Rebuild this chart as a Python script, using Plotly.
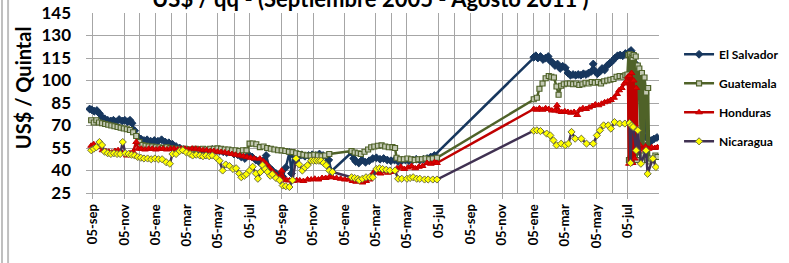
import plotly.graph_objects as go

# ---------------- data ----------------
tick_dates = ["2005-09-05", "2005-11-05", "2006-01-05", "2006-03-05", "2006-05-05", "2006-07-05",
              "2006-09-05", "2006-11-05", "2007-01-05", "2007-03-05", "2007-05-05", "2007-07-05",
              "2007-09-05", "2007-11-05", "2008-01-05", "2008-03-05", "2008-05-05", "2008-07-05"]
tick_labels = ["05-sep", "05-nov", "05-ene", "05-mar", "05-may", "05-jul",
               "05-sep", "05-nov", "05-ene", "05-mar", "05-may", "05-jul",
               "05-sep", "05-nov", "05-ene", "05-mar", "05-may", "05-jul"]
minor_grid_dates = ["2005-12-05", "2006-02-05", "2006-06-05", "2006-10-05", "2007-04-05",
                    "2007-08-05", "2007-12-05", "2008-02-05", "2008-06-05"]

es_dates = ["2005-08-30", "2005-09-03", "2005-09-08", "2005-09-13", "2005-09-18", "2005-09-23", "2005-09-28",
            "2005-10-04", "2005-10-10", "2005-10-15", "2005-10-20", "2005-10-26", "2005-11-01", "2005-11-06",
            "2005-11-11", "2005-11-16", "2005-11-20", "2005-11-25", "2005-12-01", "2005-12-07", "2005-12-13",
            "2005-12-19", "2005-12-26", "2006-01-02", "2006-01-09", "2006-01-16", "2006-01-23", "2006-01-30",
            "2006-02-06", "2006-02-13", "2006-02-20", "2006-02-27", "2006-03-06", "2006-03-13", "2006-03-20",
            "2006-03-27", "2006-04-03", "2006-04-10", "2006-04-17", "2006-04-24", "2006-05-01", "2006-05-08",
            "2006-05-15", "2006-05-22", "2006-05-29", "2006-06-05", "2006-06-12", "2006-06-19", "2006-06-26",
            "2006-07-03", "2006-07-10", "2006-07-17", "2006-07-24", "2006-07-31", "2006-08-06", "2006-08-12",
            "2006-08-18", "2006-08-25", "2006-09-01", "2006-09-07", "2006-09-13", "2006-09-20", "2006-09-24",
            "2006-09-28", "2006-10-03", "2006-10-08", "2006-10-14", "2006-10-20", "2006-10-27", "2006-11-03",
            "2006-11-10", "2006-11-17", "2006-11-24", "2006-12-01", "2006-12-05", "2006-12-10",
            "2007-01-18", "2007-01-22", "2007-01-26", "2007-02-01", "2007-02-07", "2007-02-14", "2007-02-21",
            "2007-02-28", "2007-03-07", "2007-03-14", "2007-03-21", "2007-03-28", "2007-04-04", "2007-04-11",
            "2007-04-18", "2007-04-25", "2007-05-02", "2007-05-09", "2007-05-16", "2007-05-23", "2007-05-30",
            "2007-06-06", "2007-06-13", "2007-06-20", "2007-06-27",
            "2008-01-05", "2008-01-09", "2008-01-13", "2008-01-18", "2008-01-23", "2008-01-28", "2008-02-02",
            "2008-02-06", "2008-02-10", "2008-02-15", "2008-02-20", "2008-02-25", "2008-03-01", "2008-03-06",
            "2008-03-11", "2008-03-16", "2008-03-21", "2008-03-26", "2008-03-31", "2008-04-05", "2008-04-10",
            "2008-04-15", "2008-04-20", "2008-04-25", "2008-04-29", "2008-05-03", "2008-05-07", "2008-05-12",
            "2008-05-16", "2008-05-21", "2008-05-26", "2008-05-31", "2008-06-05", "2008-06-10", "2008-06-15",
            "2008-06-20", "2008-06-25", "2008-06-30", "2008-07-04", "2008-07-08", "2008-07-11", "2008-07-14",
            "2008-07-17", "2008-07-20", "2008-07-23", "2008-07-27", "2008-07-31", "2008-08-06", "2008-08-10",
            "2008-08-14", "2008-08-19", "2008-08-24", "2008-08-30"]
es_values = [81.0, 80.5, 79.5, 80.0, 78.0, 75.5, 74.5,
             73.5, 73.0, 73.5, 72.5, 74.0, 73.0, 73.5,
             72.5, 73.5, 71.5, 66.5, 62.5, 61.0, 60.0,
             60.5, 59.5, 60.0, 59.5, 60.5, 59.0, 58.5,
             57.5, 56.0, 55.0, 54.0, 53.5, 53.0, 53.5,
             52.5, 53.5, 53.0, 52.5, 54.0, 53.5, 53.0,
             52.5, 52.0, 53.0, 51.0, 50.5, 49.0, 48.0,
             50.5, 49.0, 47.0, 45.5, 46.5, 50.0, 42.0,
             40.0, 38.0, 37.0, 36.0, 42.0, 52.0, 38.0,
             50.0, 47.0, 49.5, 50.5, 49.5, 50.0, 50.5,
             50.0, 51.0, 50.0, 49.5, 47.0, 39.5,
             52.0, 48.0, 46.0, 45.0, 47.0, 45.5, 46.5,
             48.0, 48.5, 47.5, 48.0, 47.0, 46.5, 47.0,
             46.0, 46.5, 47.0, 46.5, 47.0, 47.5, 47.0,
             47.5, 48.0, 49.0, 50.0,
             115.5, 116.5, 115.0, 116.0, 114.0, 115.0, 116.0,
             113.0, 112.0, 110.0, 111.0, 108.0, 109.5, 108.5,
             105.0, 103.5, 104.0, 103.5, 104.0, 103.5, 104.5,
             104.0, 105.0, 106.0, 111.0, 106.0, 104.5, 106.0,
             108.0, 107.0, 110.0, 111.5, 113.0, 115.0, 116.5,
             117.0, 116.5, 118.0, 117.5, 119.0, 120.0, 118.0,
             117.0, 111.0, 108.0, 100.0, 91.5, 91.5, 62.0,
             58.0, 60.0, 61.0, 62.0]

gt_dates = ["2005-09-02", "2005-09-07", "2005-09-12", "2005-09-17", "2005-09-23", "2005-09-29", "2005-10-05",
            "2005-10-11", "2005-10-17", "2005-10-23", "2005-10-29", "2005-11-04", "2005-11-10", "2005-11-16",
            "2005-11-22", "2005-11-28", "2005-12-04", "2005-12-10", "2005-12-16", "2005-12-22", "2005-12-29",
            "2006-01-05", "2006-01-12", "2006-01-19", "2006-01-26", "2006-02-02", "2006-02-09", "2006-02-16",
            "2006-02-23", "2006-03-02", "2006-03-09", "2006-03-16", "2006-03-23", "2006-03-30", "2006-04-06",
            "2006-04-13", "2006-04-20", "2006-04-27", "2006-05-04", "2006-05-11", "2006-05-18", "2006-05-25",
            "2006-06-01", "2006-06-08", "2006-06-15", "2006-06-22", "2006-06-29", "2006-07-05", "2006-07-11",
            "2006-07-18", "2006-07-25", "2006-08-01", "2006-08-08", "2006-08-15", "2006-08-22", "2006-08-29",
            "2006-09-05", "2006-09-12", "2006-09-19", "2006-09-26", "2006-10-03", "2006-10-10", "2006-10-17",
            "2006-10-24", "2006-10-31", "2006-11-07", "2006-11-14", "2006-11-21", "2006-11-28", "2006-12-06",
            "2007-01-18", "2007-01-24", "2007-01-30", "2007-02-05", "2007-02-12", "2007-02-19", "2007-02-25",
            "2007-03-03", "2007-03-10", "2007-03-17", "2007-03-24", "2007-03-31", "2007-04-07", "2007-04-12",
            "2007-04-15", "2007-04-22", "2007-04-29", "2007-05-06", "2007-05-13", "2007-05-20", "2007-05-27",
            "2007-06-03", "2007-06-10", "2007-06-17", "2007-06-24", "2007-07-02",
            "2008-01-05", "2008-01-11", "2008-01-16", "2008-01-22", "2008-01-28", "2008-02-03", "2008-02-08",
            "2008-02-13", "2008-02-18", "2008-02-22", "2008-02-27", "2008-03-03", "2008-03-09", "2008-03-15",
            "2008-03-21", "2008-03-27", "2008-04-02", "2008-04-08", "2008-04-14", "2008-04-20", "2008-04-26",
            "2008-05-02", "2008-05-08", "2008-05-14", "2008-05-20", "2008-05-26", "2008-06-01", "2008-06-07",
            "2008-06-13", "2008-06-19", "2008-06-25", "2008-06-30", "2008-07-04", "2008-07-06", "2008-07-07",
            "2008-07-09", "2008-07-10", "2008-07-12", "2008-07-14", "2008-07-16", "2008-07-18", "2008-07-20",
            "2008-07-22", "2008-07-24", "2008-07-27", "2008-07-30", "2008-08-01", "2008-08-04", "2008-08-06",
            "2008-08-09", "2008-08-11", "2008-08-13", "2008-08-15", "2008-08-18", "2008-08-22", "2008-08-27",
            "2008-08-31"]
gt_values = [73.5, 72.0, 73.5, 72.0, 71.5, 71.0, 70.5,
             70.0, 69.5, 69.0, 68.5, 68.0, 67.5, 67.0,
             65.5, 63.0, 59.0, 57.0, 56.5, 56.0, 56.0,
             55.5, 55.5, 55.0, 55.5, 55.0, 54.5, 54.5,
             54.0, 54.5, 54.0, 54.0, 54.5, 54.0, 54.5,
             54.0, 54.5, 54.5, 54.8, 54.5, 54.0, 54.0,
             53.5, 53.5, 53.0, 53.5, 53.4, 57.9, 58.0,
             57.5, 55.6, 56.0, 55.0, 54.5, 54.0, 53.5,
             53.4, 53.0, 52.5, 52.3, 51.5, 51.0, 50.5,
             50.0, 50.0, 50.5, 50.0, 49.5, 50.0, 51.0,
             53.0, 52.0, 51.5, 51.0, 52.5, 54.0, 55.5,
             56.0, 56.5, 56.8, 56.0, 55.5, 55.6, 55.0,
             48.5, 47.5, 47.5, 48.0, 47.5, 47.0, 47.5,
             47.5, 48.0, 47.5, 48.0, 48.5,
             87.5, 88.5, 94.5, 98.0, 101.5, 103.0, 102.5,
             102.0, 96.0, 90.5, 96.5, 97.5, 98.0, 98.0,
             97.5, 98.0, 97.0, 97.5, 98.5, 98.0, 99.0,
             98.5, 99.0, 98.0, 99.5, 100.0, 100.5, 101.0,
             102.5, 103.0, 102.5, 103.5, 104.0, 117.0, 47.0,
             117.5, 48.0, 116.0, 115.0, 117.0, 48.0, 116.0,
             47.0, 110.0, 108.0, 52.0, 105.0, 50.0, 102.0,
             92.0, 47.0, 95.0, 46.0, 48.0, 47.0, 50.0,
             49.0]

hn_dates = ["2005-09-02", "2005-09-07", "2005-09-12", "2005-09-18", "2005-09-24", "2005-09-30", "2005-10-06",
            "2005-10-12", "2005-10-18", "2005-10-24", "2005-10-30", "2005-11-05", "2005-11-10", "2005-11-16",
            "2005-11-22", "2005-11-28", "2005-12-02", "2005-12-08", "2005-12-15", "2005-12-22", "2005-12-29",
            "2006-01-05", "2006-01-12", "2006-01-19", "2006-01-26", "2006-02-02", "2006-02-09", "2006-02-16",
            "2006-02-23", "2006-03-02", "2006-03-09", "2006-03-16", "2006-03-23", "2006-03-30", "2006-04-06",
            "2006-04-13", "2006-04-20", "2006-04-27", "2006-05-04", "2006-05-11", "2006-05-18", "2006-05-25",
            "2006-06-01", "2006-06-08", "2006-06-16", "2006-06-23", "2006-06-30", "2006-07-07", "2006-07-14",
            "2006-07-25", "2006-08-01", "2006-08-06", "2006-08-12", "2006-08-18", "2006-08-25", "2006-09-01",
            "2006-09-05", "2006-09-10", "2006-09-15", "2006-09-20", "2006-09-27", "2006-10-04", "2006-10-10",
            "2006-10-17", "2006-10-25", "2006-11-01", "2006-11-08", "2006-11-15", "2006-11-22", "2006-11-29",
            "2006-12-06", "2006-12-12", "2006-12-20", "2006-12-28", "2007-01-05", "2007-01-13", "2007-01-20",
            "2007-01-27", "2007-02-02", "2007-02-08", "2007-02-15", "2007-02-22", "2007-03-01", "2007-03-08",
            "2007-03-15", "2007-03-22", "2007-03-29", "2007-04-05", "2007-04-12", "2007-04-16", "2007-04-23",
            "2007-04-30", "2007-05-07", "2007-05-14", "2007-05-21", "2007-05-28", "2007-06-04", "2007-06-13",
            "2007-06-20", "2007-06-27", "2007-07-02",
            "2008-01-05", "2008-01-10", "2008-01-16", "2008-01-22", "2008-01-28", "2008-02-03", "2008-02-09",
            "2008-02-15", "2008-02-19", "2008-02-23", "2008-02-28", "2008-03-05", "2008-03-11", "2008-03-17",
            "2008-03-23", "2008-03-29", "2008-04-03", "2008-04-09", "2008-04-15", "2008-04-21", "2008-04-27",
            "2008-05-03", "2008-05-09", "2008-05-15", "2008-05-21", "2008-05-27", "2008-06-02", "2008-06-08",
            "2008-06-14", "2008-06-18", "2008-06-23", "2008-06-28", "2008-07-02", "2008-07-05", "2008-07-07",
            "2008-07-08", "2008-07-10", "2008-07-12", "2008-07-14", "2008-07-16", "2008-07-18", "2008-07-21",
            "2008-07-24", "2008-07-28", "2008-08-02", "2008-08-08", "2008-08-14", "2008-08-20", "2008-08-26",
            "2008-08-31"]
hn_values = [56.5, 57.5, 55.5, 57.0, 53.5, 53.0, 52.5,
             52.0, 53.0, 53.5, 52.5, 51.5, 50.0, 51.5,
             52.5, 59.0, 54.5, 54.5, 54.0, 54.5, 54.5,
             54.0, 54.5, 54.5, 54.0, 54.5, 54.5, 54.0,
             54.5, 54.5, 54.0, 54.6, 54.5, 54.0, 53.5,
             53.5, 53.0, 53.0, 52.5, 52.3, 52.0, 51.5,
             51.0, 50.5, 50.0, 49.5, 49.0, 48.5, 48.0,
             47.9, 46.0, 44.5, 42.0, 39.5, 37.0, 35.6,
             40.0, 34.0, 33.5, 33.4, 33.0, 33.5, 33.4,
             33.0, 34.0, 34.0, 34.5, 34.0, 35.0, 35.0,
             35.6, 35.5, 35.0, 34.5, 34.0, 34.0, 33.0,
             32.5, 33.5, 32.0, 33.0, 34.0, 38.5, 39.0,
             38.0, 39.5, 38.5, 39.0, 40.0, 41.5, 42.5,
             41.0, 42.0, 43.0, 41.5, 42.5, 43.0, 45.0,
             44.5, 45.5, 45.0,
             81.0, 80.5, 81.5, 80.5, 81.5, 81.0, 80.0,
             80.0, 83.5, 79.5, 79.0, 79.5, 79.0, 78.5,
             79.0, 77.0, 80.5, 81.5, 81.0, 82.0, 83.0,
             84.0, 83.5, 84.5, 85.5, 86.0, 87.0, 88.5,
             91.0, 93.5, 95.0, 98.0, 99.5, 102.5, 44.5,
             103.0, 46.0, 105.0, 45.0, 100.0, 48.0, 95.0,
             53.0, 57.0, 54.0, 56.0, 54.5, 55.5, 55.0,
             55.5]

ni_dates = ["2005-09-02", "2005-09-07", "2005-09-12", "2005-09-18", "2005-09-23", "2005-09-28", "2005-10-04",
            "2005-10-10", "2005-10-16", "2005-10-22", "2005-10-28", "2005-11-02", "2005-11-07", "2005-11-13",
            "2005-11-19", "2005-11-25", "2005-12-01", "2005-12-07", "2005-12-13", "2005-12-20", "2005-12-27",
            "2006-01-03", "2006-01-10", "2006-01-17", "2006-01-25", "2006-02-01", "2006-02-06", "2006-02-13",
            "2006-02-20", "2006-02-26", "2006-03-05", "2006-03-12", "2006-03-17", "2006-03-24", "2006-03-31",
            "2006-04-06", "2006-04-12", "2006-04-18", "2006-04-24", "2006-05-02", "2006-05-08", "2006-05-14",
            "2006-05-20", "2006-05-27", "2006-06-03", "2006-06-09", "2006-06-15", "2006-06-19", "2006-06-25",
            "2006-06-29", "2006-07-05", "2006-07-11", "2006-07-17", "2006-07-21", "2006-07-26", "2006-07-30",
            "2006-08-04", "2006-08-09", "2006-08-14", "2006-08-18", "2006-08-25", "2006-09-01", "2006-09-07",
            "2006-09-13", "2006-09-20", "2006-09-26", "2006-10-03", "2006-10-09", "2006-10-15", "2006-10-20",
            "2006-10-25", "2006-11-01", "2006-11-06", "2006-11-11", "2006-11-16", "2006-11-20", "2006-11-25",
            "2006-11-30", "2006-12-06", "2006-12-12",
            "2007-01-18", "2007-01-24", "2007-01-30", "2007-02-02", "2007-02-08", "2007-02-15", "2007-02-22",
            "2007-02-28", "2007-03-07", "2007-03-13", "2007-03-19", "2007-03-26", "2007-04-02", "2007-04-12",
            "2007-04-18", "2007-04-25", "2007-05-05", "2007-05-11", "2007-05-17", "2007-05-24", "2007-05-30",
            "2007-06-08", "2007-06-15", "2007-06-24", "2007-07-02",
            "2008-01-05", "2008-01-11", "2008-01-18", "2008-01-30", "2008-02-06", "2008-02-12", "2008-02-18",
            "2008-02-27", "2008-03-06", "2008-03-12", "2008-03-18", "2008-03-25", "2008-04-06", "2008-04-16",
            "2008-04-29", "2008-05-06", "2008-05-12", "2008-05-19", "2008-05-28", "2008-06-02", "2008-06-09",
            "2008-06-19", "2008-06-29", "2008-07-08", "2008-07-10", "2008-07-12", "2008-07-15", "2008-07-21",
            "2008-07-24", "2008-07-30", "2008-08-09", "2008-08-12", "2008-08-22", "2008-08-28"]
ni_values = [53.5, 54.5, 55.5, 59.0, 57.0, 52.5, 51.5,
             51.0, 51.5, 51.0, 51.0, 59.0, 51.5, 51.0,
             50.5, 50.0, 49.0, 48.5, 48.0, 48.0, 47.5,
             48.0, 47.5, 47.5, 45.5, 44.5, 51.0, 51.0,
             53.0, 53.5, 52.0, 51.0, 50.0, 50.5, 50.0,
             49.5, 50.0, 49.5, 50.0, 48.5, 46.5, 40.0,
             44.0, 43.0, 41.0, 41.5, 38.0, 35.5, 36.5,
             37.5, 40.0, 42.5, 38.0, 34.5, 39.0, 43.5,
             41.0, 39.0, 36.5, 37.5, 35.0, 33.5, 30.0,
             29.5, 29.0, 33.5, 48.0, 44.0, 40.0, 42.0,
             43.5, 46.5, 46.5, 46.5, 46.5, 46.5, 45.0,
             43.5, 40.0, 39.0,
             35.5, 35.0, 34.5, 33.5, 34.5, 35.5, 35.5,
             35.5, 41.0, 41.5, 41.0, 40.5, 40.0, 40.0,
             34.5, 34.5, 34.5, 35.0, 35.5, 34.5, 34.5,
             34.0, 34.0, 34.0, 34.0,
             66.5, 66.8, 66.3, 64.6, 63.4, 60.1, 56.8,
             57.9, 56.8, 57.9, 65.7, 61.2, 61.2, 57.9,
             57.9, 63.4, 66.8, 70.1, 70.1, 67.9, 72.3,
             71.3, 71.3, 71.6, 45.0, 70.0, 69.0, 53.4,
             66.8, 44.5, 53.4, 37.8, 47.9, 42.3]

# ---------------- figure ----------------
FONT = "Lato"
GRID = "#A6A6A6"

fig = go.Figure()

fig.add_trace(go.Scatter(
    x=es_dates, y=es_values, name="El Salvador", mode="lines+markers", legendgroup="es",
    line=dict(color="#17375E", width=2.5),
    marker=dict(symbol="diamond", size=6, color="#17375E", line=dict(color="#17375E", width=1))))
fig.add_trace(go.Scatter(
    x=gt_dates, y=gt_values, name="Guatemala", mode="lines+markers", legendgroup="gt",
    line=dict(color="#4F6228", width=2.5),
    marker=dict(symbol="square", size=5, color="#C3C9B4", line=dict(color="#4F6228", width=1.2))))
fig.add_trace(go.Scatter(
    x=hn_dates, y=hn_values, name="Honduras", mode="lines+markers", legendgroup="hn",
    line=dict(color="#C00000", width=2.5),
    marker=dict(symbol="triangle-up", size=6, color="#E00000", line=dict(color="#C00000", width=1))))
fig.add_trace(go.Scatter(
    x=ni_dates, y=ni_values, name="Nicaragua", mode="lines+markers", legendgroup="ni",
    line=dict(color="#403152", width=2.5),
    marker=dict(symbol="diamond", size=5.5, color="#FFFF00", line=dict(color="#6F6F3F", width=1))))

fig.update_layout(
    width=789, height=263,
    margin=dict(l=86, r=130, t=13, b=70, autoexpand=False),
    paper_bgcolor="white", plot_bgcolor="white",
    font=dict(family=FONT, color="black"),
    showlegend=True,
    legend=dict(x=1.035, y=0.851, xanchor="left", yanchor="top",
                font=dict(family=FONT, size=12, color="black", weight="bold"),
                tracegroupgap=10, itemwidth=30, bgcolor="rgba(0,0,0,0)"),
    xaxis=dict(
        type="date", range=["2005-08-23", "2008-09-03"], automargin=False,
        tickmode="array", tickvals=tick_dates, ticktext=tick_labels,
        tickangle=-90, tickfont=dict(family=FONT, size=13, color="black", weight="bold"),
        showgrid=True, gridcolor=GRID, gridwidth=1,
        ticks="outside", ticklen=5, tickcolor=GRID, tickwidth=1,
        showline=True, linecolor=GRID, linewidth=1,
        minor=dict(tickmode="array", tickvals=minor_grid_dates, showgrid=True,
                   gridcolor=GRID, gridwidth=1, ticks=""),
        zeroline=False,
    ),
    yaxis=dict(
        range=[25, 145], tick0=25, dtick=15, automargin=False,
        tickfont=dict(family=FONT, size=17, color="black", weight="bold"),
        showgrid=True, gridcolor=GRID, gridwidth=1,
        ticks="", ticklabelstandoff=14,
        showline=False, zeroline=False,
    ),
)

fig.add_annotation(
    text="US$ / qq - (Septiembre 2005 - Agosto 2011 )",
    xref="paper", yref="paper", x=0.496, y=0.996, xanchor="center", yanchor="bottom",
    showarrow=False, font=dict(family=FONT, size=22, color="black", weight="bold"))
fig.add_annotation(
    text="US$ / Quintal", textangle=-90,
    xref="paper", yref="paper", x=-0.11, y=0.588, xanchor="center", yanchor="middle",
    showarrow=False, font=dict(family=FONT, size=20, color="black", weight="bold"))

for xp in [-0.1466, -0.136]:
    fig.add_shape(type="line", xref="paper", yref="paper", x0=xp, x1=xp, y0=-0.4, y1=1.1,
                  line=dict(color="#BFBFBF", width=2))

fig.write_html("out.html", config={"displayModeBar": False},
               post_script="document.body.style.margin='0';document.body.style.overflow='hidden';")
